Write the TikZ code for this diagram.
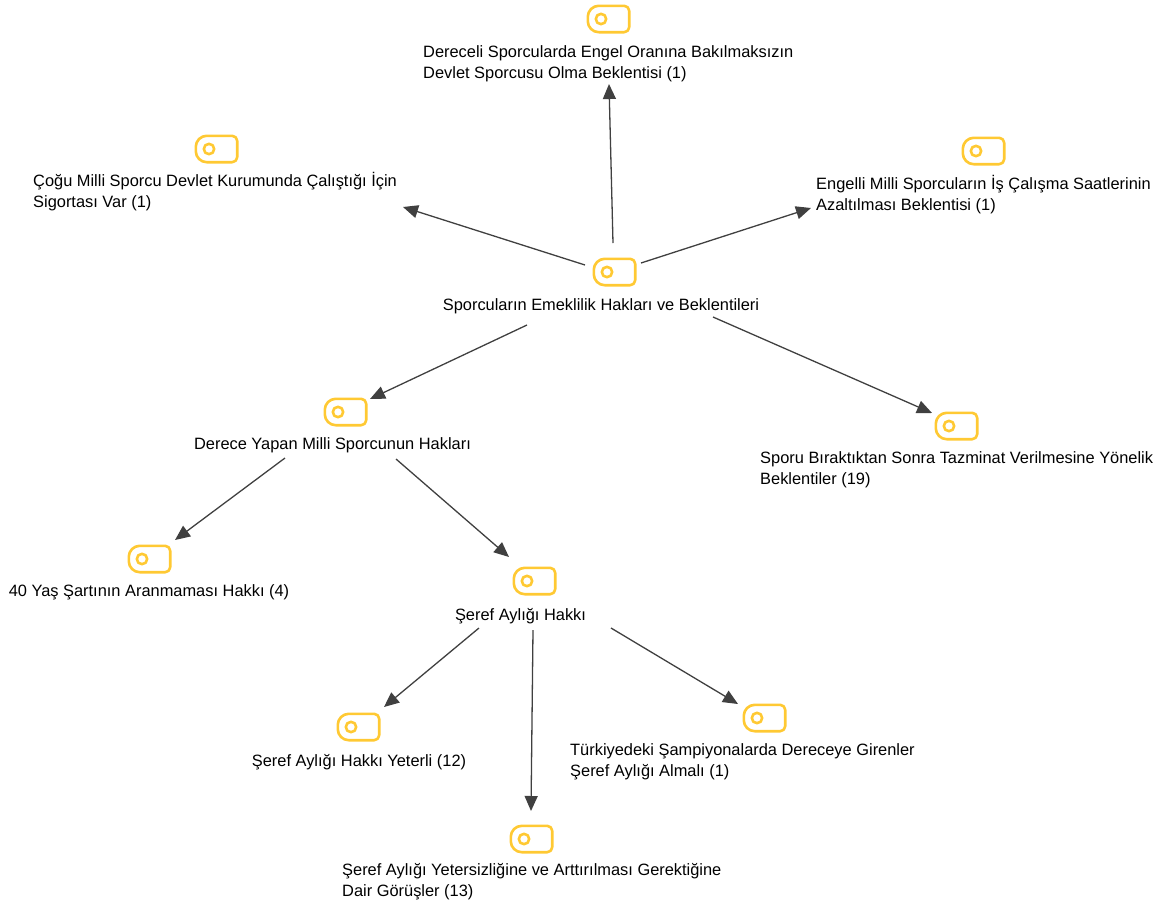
\documentclass[tikz,border=0pt]{standalone}
\usepackage{fontspec}
\setmainfont{Liberation Sans}
\usetikzlibrary{arrows.meta}
\definecolor{iconc}{HTML}{FFC933}
\definecolor{linec}{HTML}{404040}
\tikzset{
  x=1pt,y=-1pt,
  iconbox/.style={minimum width=41pt,minimum height=26pt,inner sep=0pt,draw=none},
  iconline/.style={draw=iconc,line width=2.6pt,line join=round},
  lab/.style={inner sep=0pt,font=\fontsize{16.4pt}{21pt}\selectfont,text=black,align=left},
  conn/.style={draw=linec,line width=1.3pt,-{Triangle[length=15pt,width=13pt,fill=linec]}}
}
\newcommand{\topicicon}[3]{%
  \node[iconbox] (#1) at (#2,#3) {};
  \draw[iconline] ([xshift=11pt]#1.north west) -- ([xshift=-5pt]#1.north east)
     arc[start angle=90,end angle=0,radius=5pt]
     -- ([yshift=5pt]#1.south east)
     arc[start angle=0,end angle=-90,radius=5pt]
     -- ([xshift=11pt]#1.south west)
     arc[start angle=270,end angle=180,radius=11pt]
     -- ([yshift=-11pt]#1.north west)
     arc[start angle=180,end angle=90,radius=11pt] -- cycle;
  \draw[iconline] ([xshift=-7.5pt]#1.center) circle[radius=5.2pt];
}
\begin{document}
\begin{tikzpicture}
\useasboundingbox (0,0) rectangle (1168,906);
\topicicon{itop}{608.5}{19}
\topicicon{ileft}{216.5}{149}
\topicicon{iright}{983.5}{151}
\topicicon{ihub}{614.5}{272}
\topicicon{ider}{345.5}{412}
\topicicon{ispo}{956.5}{426}
\topicicon{iyas}{149.5}{559}
\topicicon{iser}{534.5}{581}
\topicicon{iyet}{358.5}{727}
\topicicon{itur}{764.5}{718}
\topicicon{iyez}{531.5}{839}

\node[lab,anchor=west] (ttop) at (423,63.5) {Dereceli Sporcularda Engel Oranına Bakılmaksızın\\Devlet Sporcusu Olma Beklentisi (1)};
\node[lab,anchor=west] (tleft) at (33,192) {Çoğu Milli Sporcu Devlet Kurumunda Çalıştığı İçin\\Sigortası Var (1)};
\node[lab,anchor=west] (tright) at (816,195) {Engelli Milli Sporcuların İş Çalışma Saatlerinin\\Azaltılması Beklentisi (1)};
\node[lab] (thub) at (601,306) {Sporcuların Emeklilik Hakları ve Beklentileri};
\node[lab] (tder) at (332.5,445) {Derece Yapan Milli Sporcunun Hakları};
\node[lab,anchor=west] (tspo) at (760,470) {Sporu Bıraktıktan Sonra Tazminat Verilmesine Yönelik\\Beklentiler (19)};
\node[lab] (tyas) at (149,592) {40 Yaş Şartının Aranmaması Hakkı (4)};
\node[lab] (tser) at (520.5,616) {Şeref Aylığı Hakkı};
\node[lab] (tyet) at (359,762) {Şeref Aylığı Hakkı Yeterli (12)};
\node[lab,anchor=west] (ttur) at (570,762) {Türkiyedeki Şampiyonalarda Dereceye Girenler\\Şeref Aylığı Almalı (1)};
\node[lab,anchor=west] (tyez) at (342,882) {Şeref Aylığı Yetersizliğine ve Arttırılması Gerektiğine\\Dair Görüşler (13)};

\draw[conn] ([shift={(-1.5,-29)}]ihub.center) -- ([shift={(0.5,65)}]itop.center);
\draw[conn] ([shift={(-29.5,-7)}]ihub.center) -- ([shift={(186.5,58)}]ileft.center);
\draw[conn] ([shift={(26.5,-9)}]ihub.center) -- ([shift={(-172.5,57)}]iright.center);
\draw[conn] ([shift={(-87.5,53)}]ihub.center) -- ([shift={(24.5,-13)}]ider.center);
\draw[conn] ([shift={(98.5,45)}]ihub.center) -- ([shift={(-24.5,-13)}]ispo.center);
\draw[conn] ([shift={(-60.5,46)}]ider.center) -- ([shift={(25.5,-19)}]iyas.center);
\draw[conn] ([shift={(50.5,47)}]ider.center) -- ([shift={(-25.5,-24)}]iser.center);
\draw[conn] ([shift={(-55.5,47)}]iser.center) -- ([shift={(25.5,-20)}]iyet.center);
\draw[conn] ([shift={(-1.5,49)}]iser.center) -- ([shift={(-0.5,-28)}]iyez.center);
\draw[conn] ([shift={(76.5,47)}]iser.center) -- ([shift={(-26.5,-14)}]itur.center);
\end{tikzpicture}
\end{document}
